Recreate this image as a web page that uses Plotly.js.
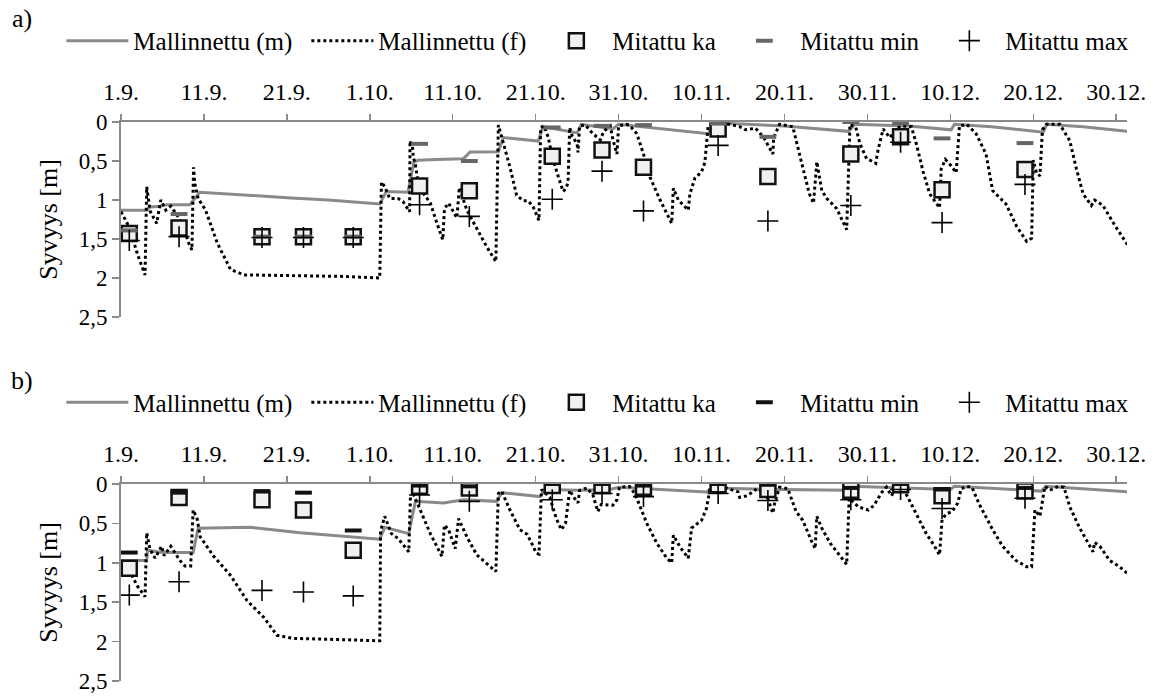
<!DOCTYPE html>
<html><head><meta charset="utf-8">
<script src="https://cdn.plot.ly/plotly-3.0.1.min.js"></script>
<style>html,body{margin:0;padding:0;background:#fff}#pa,#pb{display:block;width:1157px}</style>
</head><body>
<div id="pa" style="height:362px"></div>
<div id="pb" style="height:335px"></div>
<script>
// x = days since 1.9.
const tickDays = [0,10,20,30,40,50,60,70,80,90,100,110,120];
const tickLabels = ['1.9.','11.9.','21.9.','1.10.','11.10.','21.10.','31.10.','10.11.','20.11.','30.11.','10.12.','20.12.','30.12.'];
const depthTicks = [0,0.5,1,1.5,2,2.5];
const seriesNames = ['Mallinnettu (m)','Mallinnettu (f)','Mitattu ka','Mitattu min','Mitattu max'];

// measurement days
const measDays = [1,7,17,22,28,36,42,52,58,63,72,78,88,94,99,109];

// panel a
const aKa  = [1.43,1.36,1.47,1.47,1.47,0.82,0.88,0.44,0.36,0.58,0.09,0.70,0.41,0.19,0.87,0.61];
const aMin = [1.39,1.18,1.47,1.47,1.47,0.28,0.50,0.07,0.05,0.04,0.02,0.19,0.00,0.015,0.21,0.27];
const aMax = [1.52,1.47,1.48,1.48,1.48,1.06,1.21,0.99,0.63,1.14,0.30,1.27,1.07,0.26,1.29,0.80];

const aMDays = [0,3.1,3.5,4.7,5.5,8.3,9.5,15,20,25,31.2,32,34.6,35.3,35.8,38,41.3,42.1,45.5,46.1,50.3,50.9,55,55.5,59.3,60,65,70.8,71.5,80,87.7,88.5,95,100.1,100.5,105,111.2,111.6,116,121.4];
const aMVals = [1.13,1.13,1.09,1.08,1.06,1.06,0.90,0.94,0.97,1.00,1.05,0.89,0.90,0.52,0.49,0.48,0.47,0.385,0.38,0.20,0.245,0.06,0.14,0.03,0.09,0.03,0.09,0.15,0.01,0.05,0.12,0.03,0.05,0.10,0.03,0.06,0.13,0.03,0.06,0.12];

const aFDays = [0,1,2,2.9,3.1,3.5,4.3,4.8,5.4,6.0,6.8,7.5,8.15,8.55,8.75,8.9,9.3,10.2,11.6,13.2,14.8,20,27,31.2,31.4,31.8,32.4,33.4,34.0,34.8,34.85,35.0,35.1,35.25,35.5,35.9,37.3,38.1,38.8,39.0,39.5,40.5,40.8,41.7,43.3,44.1,45.2,45.5,45.9,46.9,47.7,48.5,49.1,49.7,50.4,50.6,51.0,51.5,52.1,52.9,53.3,53.6,53.9,54.1,54.4,55.0,55.1,55.3,56.0,56.9,57.8,58.2,59.0,59.3,59.8,60.0,60.9,61.3,62.2,63.0,63.8,65.0,66.4,66.6,67.2,68.4,68.6,69.2,70.0,70.4,70.8,72,73.4,74.6,75.3,76.5,77.5,78.6,78.7,79.4,81.0,82.2,83.0,83.5,83.9,84.5,85.1,86.3,87.5,87.9,88.6,89.1,89.9,90.5,91.0,91.3,91.9,92.7,93.5,94.2,95.3,95.9,96.7,97.5,98.7,98.9,99.4,100.0,100.7,101.1,102,103.1,104.3,105.1,106.7,108.0,109.2,109.8,110.0,110.4,110.8,111.1,111.6,113.2,114.4,115.2,116.0,117.0,117.4,118.4,119.8,121.4];
const aFVals = [1.15,1.35,1.70,1.96,0.83,1.14,1.30,1.00,1.13,1.08,1.20,1.34,1.55,1.64,0.58,0.79,0.98,1.13,1.55,1.89,1.96,1.97,1.98,2.00,0.77,0.83,0.98,0.98,1.02,1.15,0.24,0.30,0.26,0.45,0.55,0.83,1.04,1.30,1.51,1.11,1.04,1.23,0.84,1.13,1.45,1.60,1.79,0.04,0.19,0.58,0.94,1.01,1.01,1.09,1.26,0.07,0.05,0.19,0.49,0.75,0.89,0.86,0.78,0.07,0.18,0.28,0.39,0.05,0.04,0.15,0.23,0.12,0.05,0.22,0.41,0.05,0.03,0.04,0.15,0.41,0.71,1.00,1.30,0.85,1.00,1.13,0.92,0.72,0.64,0.52,0.04,0.02,0.03,0.06,0.10,0.08,0.20,0.41,0.20,0.03,0.06,0.58,0.92,1.04,0.51,0.88,0.98,1.11,1.38,0.03,0.07,0.28,0.47,0.50,0.53,0.35,0.09,0.20,0.08,0.05,0.06,0.28,0.63,0.92,1.10,0.60,0.48,0.55,0.65,0.05,0.03,0.15,0.41,0.88,1.05,1.34,1.53,1.49,0.49,0.66,0.69,0.10,0.03,0.03,0.24,0.60,0.92,1.07,1.00,1.07,1.32,1.58];

// panel b
const bKa  = [1.07,0.17,0.20,0.33,0.84,0.03,0.05,0.02,0.02,0.04,0.01,0.07,0.08,0.01,0.15,0.09];
const bMin = [0.87,0.11,0.09,0.11,0.59,0.02,0.03,0.00,0.00,0.02,0.00,0.01,0.05,0.00,0.07,0.05];
const bMax = [1.41,1.24,1.35,1.37,1.42,0.14,0.22,0.20,0.12,0.16,0.12,0.21,0.20,0.07,0.31,0.18];

const bMDays = [0,3.1,3.2,5,8.7,9.3,15.6,21.6,31.2,31.8,34.7,35.5,38.9,41.3,45.3,45.9,50.5,51.1,55.1,59.0,60,70.6,71.5,79.4,87.7,88.2,100,100.5,111,111.5,121.4];
const bMVals = [0.97,0.97,0.84,0.87,0.87,0.56,0.55,0.62,0.70,0.55,0.63,0.22,0.24,0.20,0.22,0.11,0.16,0.07,0.08,0.07,0.04,0.10,0.05,0.07,0.08,0.03,0.07,0.03,0.09,0.03,0.10];

const bFDays = [0,1,2,2.9,3.1,3.5,4.1,4.9,5.2,6.0,7.1,7.7,8.4,8.7,9.2,9.55,11.2,13.2,15.2,17.2,18.8,20.8,25,31.2,31.3,31.8,32.6,33.4,34.7,34.9,35.3,36.1,37.3,38.7,39.0,39.5,40.3,40.7,41.7,42.9,44.1,45.2,45.5,45.9,46.9,48.1,49.0,50.1,50.4,50.7,51.7,52.5,53.1,53.6,54.1,54.6,55.1,55.3,56.2,56.9,57.5,57.9,59.3,59.8,60.1,61.3,62.0,63.4,64.6,65.8,66.4,66.6,67.4,68.4,68.8,70.0,70.6,71.0,73,74.4,74.6,75.5,76.7,77.8,78.6,78.8,79.4,80.4,81.4,82.2,83.2,83.7,83.9,84.5,85.5,86.7,87.5,87.8,88.9,90.1,90.8,91.7,92.3,92.9,93.5,94.3,95.9,97.1,98.1,98.7,99.0,99.5,100.2,100.9,101.3,102,102.6,103.5,105.1,106.3,107.9,109.2,109.8,110.2,110.8,111.4,112,113,113.7,114.4,115.6,117.2,117.4,118.1,119.2,120.4,121.4];
const bFVals = [0.97,1.10,1.30,1.43,0.62,0.83,0.94,0.79,0.91,0.79,0.97,1.04,1.04,0.33,0.45,0.67,0.92,1.16,1.48,1.69,1.92,1.96,1.97,1.99,0.60,0.41,0.63,0.69,0.86,0.16,0.14,0.33,0.63,0.92,0.52,0.58,0.82,0.44,0.67,0.90,1.01,1.11,0.12,0.09,0.33,0.58,0.64,0.88,0.89,0.07,0.17,0.44,0.58,0.50,0.08,0.17,0.24,0.08,0.05,0.14,0.35,0.26,0.27,0.20,0.04,0.03,0.13,0.50,0.75,0.94,1.00,0.65,0.80,0.94,0.56,0.46,0.31,0.07,0.05,0.10,0.17,0.15,0.06,0.13,0.37,0.25,0.04,0.06,0.35,0.46,0.71,0.82,0.41,0.56,0.75,0.92,1.02,0.18,0.29,0.33,0.27,0.11,0.04,0.15,0.03,0.05,0.37,0.63,0.79,0.90,0.45,0.38,0.35,0.24,0.06,0.03,0.04,0.26,0.58,0.79,0.97,1.05,1.05,0.33,0.41,0.03,0.08,0.03,0.04,0.29,0.56,0.86,0.74,0.80,0.97,1.05,1.14];

const FONT = 'Liberation Serif';
const GRAY = '#8a8a8a';
const legendWidths = [168, 157, 111, 128, 125];
const W = 1157, L = 120.7, R = 29.5;

function panelTraces(mD, mV, fD, fV, ka, mn, mx, minColor) {
  return [
    {type:'scatter', mode:'lines', name:seriesNames[0], x:mD, y:mV, legendwidth:legendWidths[0],
     line:{color:GRAY, width:3}},
    {type:'scatter', mode:'lines', name:seriesNames[1], x:fD, y:fV, legendwidth:legendWidths[1],
     line:{color:'#000', width:3, dash:'dot'}},
    {type:'scatter', mode:'markers', name:seriesNames[2], x:measDays, y:ka, legendwidth:legendWidths[2],
     marker:{symbol:'square', size:15, color:'#f0f0f0', line:{color:'#111', width:2.5}}},
    {type:'scatter', mode:'markers', name:seriesNames[3], x:measDays, y:mn, legendwidth:legendWidths[3],
     marker:{symbol:'line-ew', size:12, line:{color:minColor, width:4}}},
    {type:'scatter', mode:'markers', name:seriesNames[4], x:measDays, y:mx, legendwidth:legendWidths[4],
     marker:{symbol:'cross-thin', size:15, line:{color:'#000', width:1.6}}}
  ];
}

function panelLayout(H, T, B, label, legY, labY) {
  const ph = H - T - B, pw = W - L - R;
  const py = p => (H - B - p) / ph;
  const px = p => (p - L) / pw;
  return {
    width:W, height:H, separators:', ',
    margin:{l:L, r:R, t:T, b:B, autoexpand:false},
    paper_bgcolor:'#fff', plot_bgcolor:'#fff',
    font:{family:FONT, color:'#000'},
    xaxis:{side:'top', range:[0,121.3], tickmode:'array', tickvals:tickDays, ticktext:tickLabels,
      ticks:'outside', ticklen:6, tickwidth:1.5, tickcolor:GRAY, showline:true, linecolor:GRAY, linewidth:2, ticklabelstandoff:4,
      showgrid:false, zeroline:false, automargin:false, tickfont:{family:FONT, size:24, color:'#000'}},
    yaxis:{range:[2.5,0], tickmode:'array', tickvals:depthTicks,
      ticks:'outside', ticklen:7, tickwidth:1.5, tickcolor:GRAY, showline:true, linecolor:GRAY, linewidth:2,
      showgrid:false, zeroline:false, automargin:false, tickfont:{family:FONT, size:23, color:'#000'},
      title:{text:'Syvyys [m]', font:{family:FONT, size:26, color:'#000'}, standoff:14}},
    legend:{orientation:'h', x:px(61), xanchor:'left', y:py(legY), yanchor:'middle', itemwidth:62,
      bgcolor:'rgba(0,0,0,0)', borderwidth:0, font:{family:FONT, size:25, color:'#000'}},
    annotations:[
      {xref:'paper', yref:'paper', x:px(22), y:py(labY), text:label, showarrow:false, xanchor:'center', yanchor:'middle',
       font:{family:FONT, size:26, color:'#000'}}
    ],
    showlegend:true
  };
}

const cfg = {displayModeBar:false, staticPlot:true};
Plotly.newPlot('pa', panelTraces(aMDays, aMVals, aFDays, aFVals, aKa, aMin, aMax, '#666'),
  panelLayout(362, 121.5, 44.5, 'a)', 40, 17), cfg);
Plotly.newPlot('pb', panelTraces(bMDays, bMVals, bFDays, bFVals, bKa, bMin, bMax, '#111'),
  panelLayout(335, 122.3, 16.3, 'b)', 41, 19), cfg);
</script>
</body></html>
